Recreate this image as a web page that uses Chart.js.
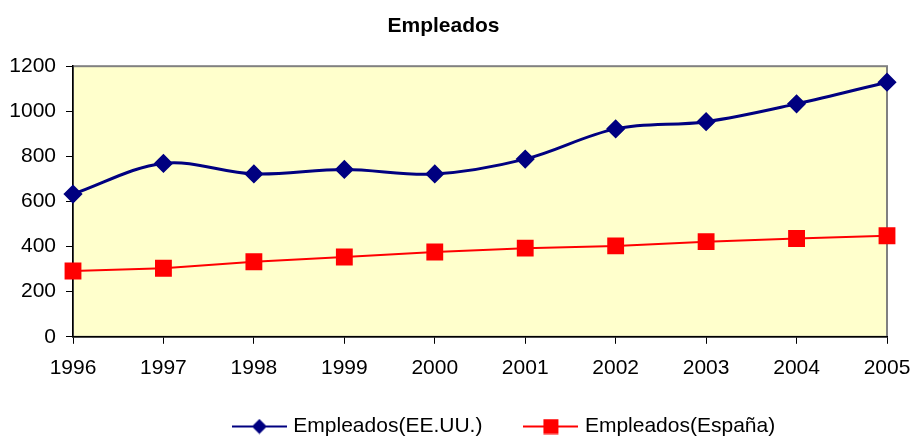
<!DOCTYPE html>
<html>
<head>
<meta charset="utf-8">
<script src="https://cdn.jsdelivr.net/npm/chart.js@4/dist/chart.umd.min.js"></script>
<style>
  html, body { margin: 0; padding: 0; background: #fff; }
  #wrap { width: 912px; height: 436px; }
</style>
</head>
<body>
<div id="wrap"><canvas id="graph" width="912" height="436"></canvas></div>
<script>
// data
var years = ['1996', '1997', '1998', '1999', '2000', '2001', '2002', '2003', '2004', '2005'];
var empleadosUSA = [633, 769, 722, 742, 722, 788, 922, 954, 1033, 1129];
var empleadosEspana = [292, 304, 333, 354, 376, 393, 403, 422, 436, 448];
var yTicks = [0, 200, 400, 600, 800, 1000, 1200];

var FONT = "'Liberation Sans', Arial, sans-serif";
var X_SHRINK = 33; // px taken back from the x axis box

// small picture for the legend: line with marker in the middle
function legendIcon(color, lineW, shape) {
  var c = document.createElement('canvas');
  c.width = 55; c.height = 16;
  var g = c.getContext('2d');
  g.strokeStyle = color;
  g.lineWidth = lineW;
  g.beginPath(); g.moveTo(0, 8); g.lineTo(55, 8); g.stroke();
  g.fillStyle = color;
  if (shape === 'diamond') {
    g.beginPath();
    g.moveTo(27.5, 0.5); g.lineTo(35, 8); g.lineTo(27.5, 15.5); g.lineTo(20, 8);
    g.closePath(); g.fill();
  } else {
    g.fillRect(20, 0.5, 15, 15);
  }
  return c;
}

// yellow plot background + grey frame
var plotFrame = {
  id: 'plotFrame',
  afterLayout: function(chart) {
    // legend in the reference sits right of centre
    var lg = chart.legend;
    if (lg) {
      lg.left += 62; lg.right += 62;
      lg.top += 11; lg.bottom += 11;
    }
    // x axis box was shrunk in afterFit, give its labels room again
    chart.scales.x.bottom += X_SHRINK;
  },
  beforeDraw: function(chart) {
    var a = chart.chartArea, ctx = chart.ctx;
    ctx.save();
    ctx.fillStyle = '#FFFFCC';
    ctx.fillRect(a.left, a.top, a.right - a.left, a.bottom - a.top);
    ctx.strokeStyle = '#808080';
    ctx.lineWidth = 2;
    ctx.strokeRect(a.left, a.top, a.right - a.left, a.bottom - a.top);
    ctx.restore();
  }
};

var ctx = document.getElementById('graph').getContext('2d');
var chart = new Chart(ctx, {
  type: 'line',
  data: {
    labels: years,
    datasets: [{
      label: 'Empleados(EE.UU.)',
      data: empleadosUSA,
      borderColor: '#000080',
      backgroundColor: '#000080',
      borderWidth: 3,
      pointStyle: 'rectRot',
      pointRadius: 7.5,
      pointHoverRadius: 7.5,
      tension: 0.35,
      legendIcon: legendIcon('#000080', 2, 'diamond')
    }, {
      label: 'Empleados(España)',
      data: empleadosEspana,
      borderColor: '#FF0000',
      backgroundColor: '#FF0000',
      borderWidth: 2,
      pointStyle: 'rect',
      pointRadius: 10.5,
      pointHoverRadius: 10.5,
      tension: 0,
      legendIcon: legendIcon('#FF0000', 2, 'square')
    }]
  },
  options: {
    responsive: false,
    animation: false,
    layout: { padding: { left: 0, right: 25, top: 0, bottom: 0 } },
    plugins: {
      title: {
        display: true,
        text: 'Empleados',
        color: '#000',
        font: { family: FONT, size: 21, weight: 'bold' },
        padding: { top: 14, bottom: 27 }
      },
      legend: {
        position: 'bottom',
        labels: {
          color: '#000',
          font: { family: FONT, size: 21 },
          usePointStyle: true,
          pointStyleWidth: 47,
          padding: 45,
          generateLabels: function(chart) {
            return chart.data.datasets.map(function(ds, i) {
              return {
                text: ds.label,
                pointStyle: ds.legendIcon,
                fillStyle: ds.borderColor,
                strokeStyle: ds.borderColor,
                lineWidth: 0,
                datasetIndex: i,
                fontColor: '#000'
              };
            });
          }
        }
      },
      tooltip: { enabled: false }
    },
    scales: {
      x: {
        offset: false,
        afterFit: function(scale) {
          scale.height = scale.height - X_SHRINK;
          scale.paddingLeft = 0;
          scale.paddingRight = 0;
        },
        grid: { drawOnChartArea: false, drawTicks: true, tickLength: 7, color: '#000' },
        border: { color: '#000', width: 1.5 },
        ticks: { color: '#000', font: { family: FONT, size: 21 }, padding: 12, maxRotation: 0, autoSkip: false }
      },
      y: {
        min: 0,
        max: 1200,
        afterBuildTicks: function(scale) {
          scale.ticks = yTicks.map(function(v) { return { value: v }; });
        },
        afterFit: function(scale) { scale.width = 73; },
        grid: { drawOnChartArea: false, drawTicks: true, tickLength: 7, color: '#000' },
        border: { color: '#000', width: 1.5 },
        ticks: {
          color: '#000',
          font: { family: FONT, size: 21 },
          padding: 10,
          callback: function(v) { return String(v); }
        }
      }
    }
  },
  plugins: [plotFrame]
});
</script>
</body>
</html>
